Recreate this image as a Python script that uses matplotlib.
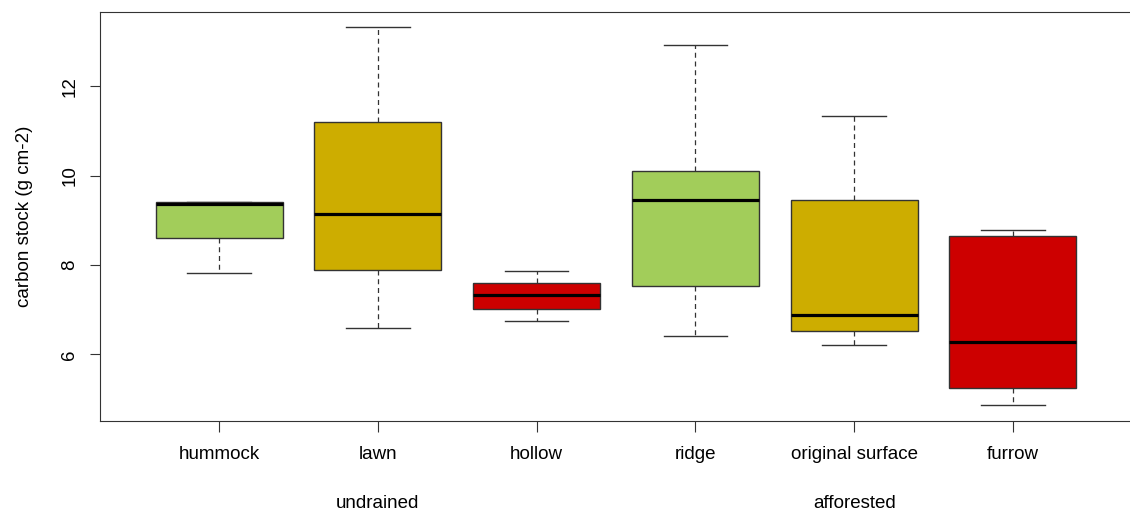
import matplotlib.pyplot as plt
import matplotlib as mpl
from matplotlib.transforms import blended_transform_factory

mpl.rcParams.update({
    "font.family": ["Liberation Sans", "DejaVu Sans"],
    "font.size": 13.5,
})

# carbon stock per microform (g cm-2), five-number summaries
labels = ["hummock", "lawn", "hollow", "ridge", "original surface", "furrow"]
whislo = [7.81, 6.60, 6.75, 6.41, 6.22, 4.87]
q1 = [8.60, 7.89, 7.02, 7.53, 6.52, 5.24]
med = [9.37, 9.14, 7.34, 9.45, 6.89, 6.27]
q3 = [9.40, 11.20, 7.60, 10.10, 9.46, 8.65]
whishi = [9.40, 13.32, 7.86, 12.93, 11.33, 8.78]
colors = ["#A2CD5A", "#CDAD00", "#CD0000", "#A2CD5A", "#CDAD00", "#CD0000"]
groups = ["undrained", "afforested"]
group_pos = [2, 5]

stats = []
for i in range(len(labels)):
    stats.append({
        "label": labels[i], "whislo": whislo[i], "q1": q1[i], "med": med[i],
        "q3": q3[i], "whishi": whishi[i], "fliers": [],
    })

fig = plt.figure(figsize=(11.3, 5.14), dpi=100)
ax = fig.add_axes([100 / 1130, 93 / 514, 1032 / 1130, 409 / 514])

line_col = "#333333"
bp = ax.bxp(
    stats, positions=range(1, 7), widths=0.8, patch_artist=True,
    showfliers=False,
    boxprops=dict(edgecolor=line_col, linewidth=1.0),
    medianprops=dict(color="black", linewidth=2.3, solid_capstyle="butt"),
    whiskerprops=dict(color=line_col, linewidth=0.9, linestyle=(0, (4, 3))),
    capprops=dict(color=line_col, linewidth=1.0),
    capwidths=0.4,
)
for patch, c in zip(bp["boxes"], colors):
    patch.set_facecolor(c)

ax.set_xlim(0.25, 6.75)
ax.set_ylim(4.51, 13.66)
ax.set_yticks([6, 8, 10, 12])
ax.set_yticklabels(["6", "8", "10", "12"], rotation=90, va="center")
ax.tick_params(axis="y", length=7.5, pad=8, color=line_col)
ax.tick_params(axis="x", length=8, pad=10, color=line_col)
for s in ax.spines.values():
    s.set_color(line_col)

ax.set_ylabel("carbon stock (g cm-2)")
ax.yaxis.set_label_coords(-0.065, 0.5)

trans = blended_transform_factory(ax.transData, fig.transFigure)
for g, p in zip(groups, group_pos):
    ax.text(p, 11 / 514, g, transform=trans, ha="center", va="center")

fig.savefig("out.png", dpi=100)
